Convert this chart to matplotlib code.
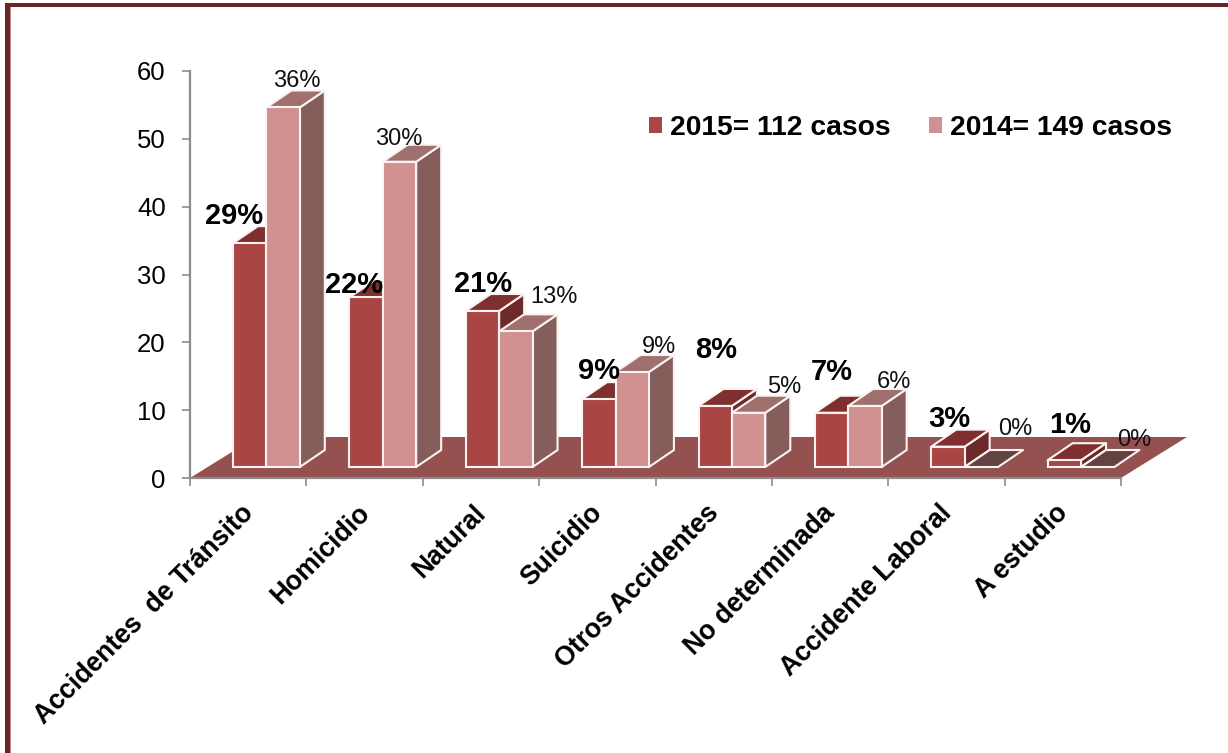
import matplotlib
matplotlib.use("Agg")
import matplotlib.pyplot as plt
from matplotlib.patches import Rectangle, Patch
from matplotlib.transforms import ScaledTranslation

plt.rcParams['font.family'] = ['Liberation Sans', 'DejaVu Sans']

categories = ["Accidentes  de Tránsito", "Homicidio", "Natural", "Suicidio",
              "Otros Accidentes", "No determinada", "Accidente Laboral", "A estudio"]
values_2015 = [33, 25, 23, 10, 9, 8, 3, 1]
values_2014 = [53, 45, 20, 14, 8, 9, 0, 0]
labels_2015 = ["29%", "22%", "21%", "9%", "8%", "7%", "3%", "1%"]
labels_2014 = ["36%", "30%", "13%", "9%", "5%", "6%", "0%", "0%"]
yticks = [0, 10, 20, 30, 40, 50, 60]
legend_labels = ["2015= 112 casos", "2014= 149 casos"]

# label centres in figure pixels (manually placed in the reference)
pos_2015 = [(234, 216), (354, 285), (483, 284), (599, 371), (716, 350), (832, 372), (949, 419), (1070, 425)]
pos_2014 = [(297, 81), (399, 139), (554, 297), (659, 347), (784, 387), (894, 382), (1015, 429), (1134, 440)]

W, H = 1228, 753
fig = plt.figure(figsize=(W / 100, H / 100), dpi=100, facecolor="white")
AX_L, AX_R, AX_T, AX_B = 190, 1121, 71, 478
ax = fig.add_axes([AX_L / W, 1 - AX_B / H, (AX_R - AX_L) / W, (AX_B - AX_T) / H])
ax.set_xlim(0, 8)
ax.set_ylim(0, 60)
ax.patch.set_alpha(0)

pxx = 8 / (AX_R - AX_L)
pxy = 60 / (AX_B - AX_T)

C15 = dict(front="#A94542", top="#7F302E", side="#6C2B29")
C14 = dict(front="#D09190", top="#A0706F", side="#855E5C")
ZERO_TOP = "#634242"
EDGE = "#FBF3F3"
FLOOR = "#95514F"

# floor
fdx, fdy = 66 * pxx, 41 * pxy
ax.fill([0, 8, 8 + fdx, fdx], [0, 0, fdy, fdy], color=FLOOR, lw=0, clip_on=False, zorder=1)

base = 11 * pxy
bw = 33.4 * pxx
dx, dy = 25 * pxx, 17 * pxy
first = 43 * pxx


def bar3d(x, v, c, z):
    top = base + v
    kw = dict(ec=EDGE, lw=1.5, clip_on=False, joinstyle="round")
    if v > 0:
        ax.fill([x + bw, x + bw + dx, x + bw + dx, x + bw],
                [base, base + dy, top + dy, top], fc=c["side"], zorder=z, **kw)
    ax.fill([x, x + bw, x + bw + dx, x + dx], [top, top, top + dy, top + dy],
            fc=c["top"] if v > 0 else ZERO_TOP, zorder=z, **kw)
    if v > 0:
        ax.bar(x, v, width=bw, bottom=base, align="edge", color=c["front"],
               edgecolor=EDGE, linewidth=1.5, clip_on=False, zorder=z + 0.1)


for i, (a, b) in enumerate(zip(values_2015, values_2014)):
    x0 = i + first
    bar3d(x0, a, C15, 2 + i)
    bar3d(x0 + bw, b, C14, 2.5 + i)

# axes styling
for s in ("top", "right"):
    ax.spines[s].set_visible(False)
for s in ("left", "bottom"):
    ax.spines[s].set_color("#8C8C8C")
    ax.spines[s].set_linewidth(1.6)
    ax.spines[s].set_zorder(1.5)
ax.set_yticks(yticks)
ax.tick_params(axis="y", length=5.5, width=1.2, color="#8C8C8C", labelsize=18.5, pad=12, labelcolor="black")
ax.set_xticks(range(9))
ax.set_xticklabels([])
ax.tick_params(axis="x", which="major", length=5.5, width=1.2, color="#8C8C8C")
ax.set_xticks([i + 0.5 for i in range(8)], minor=True)
ax.set_xticklabels(categories, minor=True, rotation=45, ha="right", va="top",
                   rotation_mode="anchor", fontsize=19.2, fontweight="bold")
ax.tick_params(axis="x", which="minor", length=0, pad=16)
shift = ScaledTranslation(-8 / 100, 0, fig.dpi_scale_trans)
for lab in ax.get_xticklabels(minor=True):
    lab.set_transform(lab.get_transform() + shift)

# data labels
for (px, py), t in zip(pos_2015, labels_2015):
    fig.text(px / W, 1 - py / H, t, ha="center", va="center", fontsize=21, fontweight="bold", color="black", zorder=20)
for (px, py), t in zip(pos_2014, labels_2014):
    fig.text(px / W, 1 - py / H, t, ha="center", va="center", fontsize=17, color="#111111", zorder=20)

# legend
handles = [Patch(fc=C15["front"], ec="none"), Patch(fc=C14["front"], ec="none")]
ax.legend(handles, legend_labels, ncol=2, frameon=False, prop=dict(size=20.3, weight="bold"),
          handlelength=0.45, handleheight=0.45, handletextpad=0.3, columnspacing=1.36,
          loc="center left", bbox_to_anchor=((649 - AX_L) / (AX_R - AX_L), (AX_B - 128) / (AX_B - AX_T)),
          borderaxespad=0, borderpad=0)

# frame of the slide
DARK = "#6B2426"
fig.add_artist(Rectangle((5 / W, 1 - 6.5 / H), (W - 5) / W, 3.5 / H, transform=fig.transFigure, fc=DARK, ec="none"))
fig.add_artist(Rectangle((5 / W, 0), 5 / W, 1 - 3 / H, transform=fig.transFigure, fc=DARK, ec="none"))
fig.add_artist(Rectangle((10 / W, 0), 1 / W, 1 - 6.5 / H, transform=fig.transFigure, fc="#B98F90", ec="none"))

fig.savefig("out.png", dpi=100)
